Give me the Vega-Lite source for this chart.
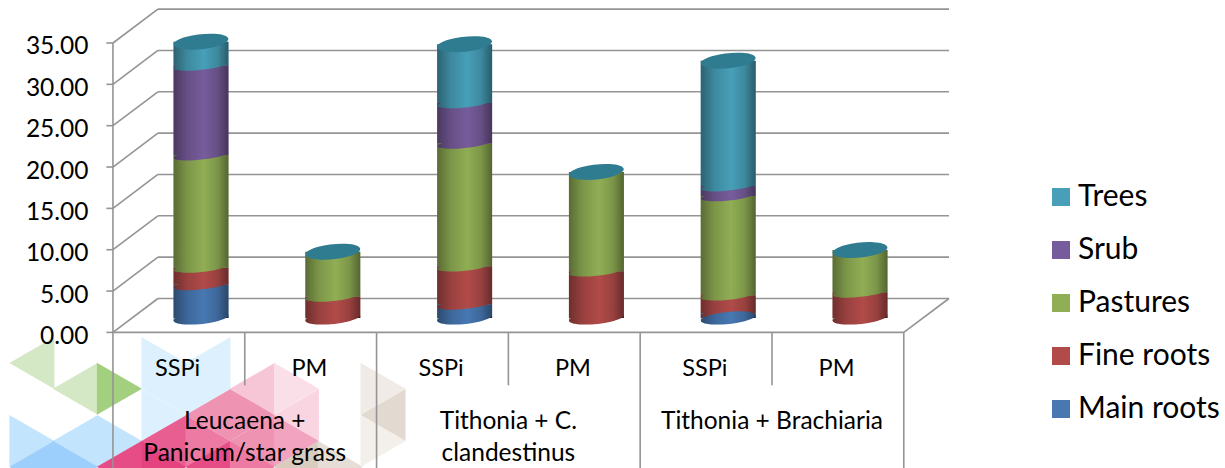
{
"$schema":"https://vega.github.io/schema/vega-lite/v6.json",
"width":1225,"height":468,"padding":0,"autosize":"none",
"background":"white",
"config":{"view":{"stroke":null},"font":"Lato"},
"datasets":{
"bars":[
{"pos":0.668,"series":"Main roots","order":1,"value":4.0},
{"pos":0.668,"series":"Fine roots","order":2,"value":2.1},
{"pos":0.668,"series":"Pastures","order":3,"value":13.6},
{"pos":0.668,"series":"Srub","order":4,"value":10.85},
{"pos":0.668,"series":"Trees","order":5,"value":2.85},
{"pos":1.668,"series":"Fine roots","order":2,"value":2.6},
{"pos":1.668,"series":"Pastures","order":3,"value":5.4},
{"pos":2.668,"series":"Main roots","order":1,"value":1.65},
{"pos":2.668,"series":"Fine roots","order":2,"value":4.6},
{"pos":2.668,"series":"Pastures","order":3,"value":14.85},
{"pos":2.668,"series":"Srub","order":4,"value":4.9},
{"pos":2.668,"series":"Trees","order":5,"value":7.1},
{"pos":3.668,"series":"Fine roots","order":2,"value":5.65},
{"pos":3.668,"series":"Pastures","order":3,"value":12.0},
{"pos":4.668,"series":"Main roots","order":1,"value":0.55},
{"pos":4.668,"series":"Fine roots","order":2,"value":2.2},
{"pos":4.668,"series":"Pastures","order":3,"value":12.0},
{"pos":4.668,"series":"Srub","order":4,"value":1.2},
{"pos":4.668,"series":"Trees","order":5,"value":15.15},
{"pos":5.668,"series":"Fine roots","order":2,"value":3.1},
{"pos":5.668,"series":"Pastures","order":3,"value":5.1}
],
"lines":[
{"a":0,"b":6,"c":0,"d":0},{"a":0,"b":0,"c":35,"d":-16.4},
{"a":1,"b":1,"c":0,"d":-6.4},{"a":2,"b":2,"c":0,"d":-16.4},{"a":3,"b":3,"c":0,"d":-6.4},{"a":4,"b":4,"c":0,"d":-16.4},{"a":5,"b":5,"c":0,"d":-6.4},{"a":6,"b":6,"c":0,"d":-16.4},
{"a":6,"b":6.343,"c":0,"d":4.1},
{"a":0,"b":0.341,"c":0,"d":4.1},{"a":0,"b":0.341,"c":5,"d":9.1},{"a":0,"b":0.341,"c":10,"d":14.1},{"a":0,"b":0.341,"c":15,"d":19.1},{"a":0,"b":0.341,"c":20,"d":24.1},{"a":0,"b":0.341,"c":25,"d":29.1},{"a":0,"b":0.341,"c":30,"d":34.1},{"a":0,"b":0.341,"c":35,"d":39.1},
{"a":0.341,"b":6.343,"c":4.1,"d":4.1},{"a":0.341,"b":6.343,"c":9.1,"d":9.1},{"a":0.341,"b":6.343,"c":14.1,"d":14.1},{"a":0.341,"b":6.343,"c":19.1,"d":19.1},{"a":0.341,"b":6.343,"c":24.1,"d":24.1},{"a":0.341,"b":6.343,"c":29.1,"d":29.1},{"a":0.341,"b":6.343,"c":34.1,"d":34.1},{"a":0.341,"b":6.343,"c":39.1,"d":39.1},
{"a":-0.05,"b":0,"c":0,"d":0},{"a":-0.05,"b":0,"c":5,"d":5},{"a":-0.05,"b":0,"c":10,"d":10},{"a":-0.05,"b":0,"c":15,"d":15},{"a":-0.05,"b":0,"c":20,"d":20},{"a":-0.05,"b":0,"c":25,"d":25},{"a":-0.05,"b":0,"c":30,"d":30},{"a":-0.05,"b":0,"c":35,"d":35}
],
"labels":[
{"tx":0.49,"ty":-4.4,"t":"SSPi","fs":23.5},{"tx":1.49,"ty":-4.4,"t":"PM","fs":23.5},{"tx":2.49,"ty":-4.4,"t":"SSPi","fs":23.5},{"tx":3.49,"ty":-4.4,"t":"PM","fs":23.5},{"tx":4.49,"ty":-4.4,"t":"SSPi","fs":23.5},{"tx":5.49,"ty":-4.4,"t":"PM","fs":23.5},
{"tx":1.0,"ty":-10.85,"t":"Leucaena +","fs":24.5},{"tx":1.0,"ty":-14.65,"t":"Panicum/star grass","fs":24.5},
{"tx":3.0,"ty":-10.85,"t":"Tithonia + C.","fs":24.5},{"tx":3.0,"ty":-14.65,"t":"clandestinus","fs":24.5},
{"tx":5.0,"ty":-10.85,"t":"Tithonia + Brachiaria","fs":24.5}
],
"tiles":[
{"cx":-0.615,"cy":-3.69,"dir":"L","col":"#D5E8C5"},
{"cx":-0.285,"cy":-6.83,"dir":"L","col":"#D5E8C5"},
{"cx":0.049,"cy":-6.83,"dir":"R","col":"#A3D07F"},
{"cx":0.387,"cy":-3.69,"dir":"R","col":"#DDF0FE"},
{"cx":0.721,"cy":-3.69,"dir":"L","col":"#DDF0FE"},
{"cx":0.721,"cy":-6.83,"dir":"R","col":"#DDF0FE"},
{"cx":0.387,"cy":-6.83,"dir":"L","col":"#DDF0FE"},
{"cx":0.387,"cy":-9.98,"dir":"R","col":"#DDF0FE"},
{"cx":-0.615,"cy":-13.12,"dir":"R","col":"#C2E4FD"},
{"cx":-0.285,"cy":-13.12,"dir":"L","col":"#C2E4FD"},
{"cx":0.049,"cy":-13.12,"dir":"R","col":"#C2E4FD"},
{"cx":-0.615,"cy":-16.26,"dir":"L","col":"#9CCFFB"},
{"cx":-0.285,"cy":-16.26,"dir":"R","col":"#9CCFFB"},
{"cx":0.049,"cy":-16.26,"dir":"L","col":"#E64D86"},
{"cx":0.387,"cy":-13.12,"dir":"L","col":"#E85E90"},
{"cx":0.387,"cy":-16.26,"dir":"R","col":"#E4437F"},
{"cx":0.721,"cy":-9.98,"dir":"L","col":"#EE93B2"},
{"cx":0.721,"cy":-13.12,"dir":"R","col":"#EC7AA3"},
{"cx":0.721,"cy":-16.26,"dir":"L","col":"#E64D86"},
{"cx":1.058,"cy":-6.83,"dir":"L","col":"#F6C5D6"},
{"cx":1.058,"cy":-9.98,"dir":"R","col":"#EE93B2"},
{"cx":1.058,"cy":-13.12,"dir":"L","col":"#EE93B2"},
{"cx":1.058,"cy":-16.26,"dir":"R","col":"#EC7AA3"},
{"cx":1.392,"cy":-6.83,"dir":"R","col":"#FADFE9"},
{"cx":1.392,"cy":-9.98,"dir":"L","col":"#F9D5E2"},
{"cx":1.392,"cy":-13.12,"dir":"R","col":"#F1A3BF"},
{"cx":1.392,"cy":-16.26,"dir":"L","col":"#D8CCBF"},
{"cx":1.725,"cy":-16.26,"dir":"R","col":"#E6DED6"},
{"cx":2.049,"cy":-6.83,"dir":"R","col":"#F0EBE6"},
{"cx":2.049,"cy":-9.98,"dir":"L","col":"#E2D9D0"},
{"cx":2.049,"cy":-13.12,"dir":"R","col":"#F3EFEB"}
]
},
"layer":[
{"data":{"name":"tiles"},
 "mark":{"type":"point","filled":true,"opacity":1,"size":2704,"strokeWidth":0},
 "encoding":{
  "x":{"field":"cx","type":"quantitative","scale":{"domain":[-0.857,8.437],"nice":false,"zero":false,"padding":0},"axis":null},
  "y":{"field":"cy","type":"quantitative","scale":{"domain":[-16.4,40.2],"nice":false,"zero":false,"padding":0},"axis":{"title":null,"values":[0,5,10,15,20,25,30,35],"format":".2f","offset":-113,"labelPadding":25,"labelOffset":4,"domain":false,"ticks":false,"grid":false,"labelFontSize":24.5,"labelColor":"#000000","labelFont":"Lato","zindex":1}},
  "fill":{"field":"col","type":"nominal","scale":null,"legend":null},
  "shape":{"field":"dir","type":"nominal","legend":null,"scale":{"domain":["L","R"],"range":["M-0.866,0 L0.866,-1 L0.866,1 Z","M-0.866,-1 L0.866,0 L-0.866,1 Z"]}}
 }},
{"data":{"name":"lines"},
 "mark":{"type":"rule","color":"#949494","strokeWidth":1.6},
 "encoding":{
  "x":{"field":"a","type":"quantitative","scale":{"domain":[-0.857,8.437],"nice":false,"zero":false,"padding":0},"axis":null},
  "x2":{"field":"b"},
  "y":{"field":"c","type":"quantitative","scale":{"domain":[-16.4,40.2],"nice":false,"zero":false,"padding":0}},
  "y2":{"field":"d"}
 }},
{"data":{"name":"labels"},
 "mark":{"type":"text","font":"Lato","color":"#000000","align":"center","baseline":"middle"},
 "encoding":{
  "x":{"field":"tx","type":"quantitative","scale":{"domain":[-0.857,8.437],"nice":false,"zero":false,"padding":0},"axis":null},
  "y":{"field":"ty","type":"quantitative","scale":{"domain":[-16.4,40.2],"nice":false,"zero":false,"padding":0}},
  "text":{"field":"t","type":"nominal"},
  "size":{"field":"fs","type":"quantitative","scale":null,"legend":null}
 }},
{"data":{"name":"bars"},
 "transform":[{"stack":"value","groupby":["pos"],"sort":[{"field":"order","order":"ascending"}],"as":["v0","v1"]}],
 "mark":{"type":"bar","size":55,"yOffset":-14.5,"y2Offset":-14.5,"orient":"vertical"},
 "encoding":{
  "x":{"field":"pos","type":"quantitative","scale":{"domain":[-0.857,8.437],"nice":false,"zero":false,"padding":0},"axis":null},
  "y":{"field":"v0","type":"quantitative","scale":{"domain":[-16.4,40.2],"nice":false,"zero":false,"padding":0}},
  "y2":{"field":"v1"},
  "color":{"field":"series","type":"nominal","scale":{"domain":["Trees","Srub","Pastures","Fine roots","Main roots"],"range":["#479FB8","#775C9B","#90AE54","#B14B49","#4778B2"]},
   "legend":{"title":null,"orient":"none","legendX":1046,"legendY":182,"symbolType":"square","symbolSize":324,"symbolStrokeWidth":0,"labelFontSize":30,"labelFont":"Lato","labelColor":"#000000","labelOffset":2,"rowPadding":23,"labelLimit":200}}
 }},
{"data":{"name":"bars"},
 "transform":[{"stack":"value","groupby":["pos"],"sort":[{"field":"order","order":"ascending"}],"as":["v0","v1"]}],
 "mark":{"type":"point","filled":true,"opacity":1,"size":3025,"strokeWidth":0,"yOffset":-14.5,"shape":"M-0.9945,0.1045 A1,0.165 -6 1,1 0.9945,-0.1045 A1,0.165 -6 1,1 -0.9945,0.1045 Z"},
 "encoding":{
  "x":{"field":"pos","type":"quantitative","scale":{"domain":[-0.857,8.437],"nice":false,"zero":false,"padding":0},"axis":null},
  "y":{"field":"v0","type":"quantitative","scale":{"domain":[-16.4,40.2],"nice":false,"zero":false,"padding":0}},
  "color":{"field":"series","type":"nominal","legend":null,"scale":{"domain":["Trees","Srub","Pastures","Fine roots","Main roots"],"range":["#479FB8","#775C9B","#90AE54","#B14B49","#4778B2"]}}
 }},
{"data":{"name":"bars"},
 "transform":[{"stack":"value","groupby":["pos"],"sort":[{"field":"order","order":"ascending"}],"as":["v0","v1"]},{"filter":"datum.v0 === 0"}],
 "mark":{"type":"point","filled":true,"opacity":1,"size":3025,"strokeWidth":0,"yOffset":-14.5,"shape":"M-0.9945,0.1045 A1,0.22 -6 1,1 0.9945,-0.1045 A1,0.22 -6 1,1 -0.9945,0.1045 Z"},
 "encoding":{
  "x":{"field":"pos","type":"quantitative","scale":{"domain":[-0.857,8.437],"nice":false,"zero":false,"padding":0},"axis":null},
  "y":{"field":"v0","type":"quantitative","scale":{"domain":[-16.4,40.2],"nice":false,"zero":false,"padding":0}},
  "color":{"field":"series","type":"nominal","legend":null,"scale":{"domain":["Trees","Srub","Pastures","Fine roots","Main roots"],"range":["#479FB8","#775C9B","#90AE54","#B14B49","#4778B2"]}}
 }},
{"data":{"name":"bars"},
 "transform":[{"aggregate":[{"op":"sum","field":"value","as":"total"}],"groupby":["pos"]}],
 "mark":{"type":"bar","size":55,"yOffset":-14.5,"y2Offset":-14.5,"orient":"vertical","color":{"gradient":"linear","x1":0,"x2":1,"y1":0,"y2":0,"stops":[{"offset":0,"color":"rgba(0,0,0,0.38)"},{"offset":0.25,"color":"rgba(0,0,0,0.14)"},{"offset":0.55,"color":"rgba(0,0,0,0)"},{"offset":0.8,"color":"rgba(0,0,0,0.14)"},{"offset":1,"color":"rgba(0,0,0,0.42)"}]}},
 "encoding":{
  "x":{"field":"pos","type":"quantitative","scale":{"domain":[-0.857,8.437],"nice":false,"zero":false,"padding":0},"axis":null},
  "y":{"field":"total","type":"quantitative","scale":{"domain":[-16.4,40.2],"nice":false,"zero":false,"padding":0}},
  "y2":{"datum":0}
 }},
{"data":{"name":"bars"},
 "transform":[{"aggregate":[{"op":"sum","field":"value","as":"total"}],"groupby":["pos"]}],
 "mark":{"type":"point","filled":true,"opacity":1,"size":3025,"strokeWidth":0,"yOffset":-14.5,"shape":"M-0.9945,0.1045 A1,0.22 -6 0,0 0.9945,-0.1045 L1,0 L-1,0 Z","color":{"gradient":"linear","x1":0,"x2":1,"y1":0,"y2":0,"stops":[{"offset":0,"color":"rgba(0,0,0,0.38)"},{"offset":0.25,"color":"rgba(0,0,0,0.14)"},{"offset":0.55,"color":"rgba(0,0,0,0)"},{"offset":0.8,"color":"rgba(0,0,0,0.14)"},{"offset":1,"color":"rgba(0,0,0,0.42)"}]}},
 "encoding":{
  "x":{"field":"pos","type":"quantitative","scale":{"domain":[-0.857,8.437],"nice":false,"zero":false,"padding":0},"axis":null},
  "y":{"datum":0,"type":"quantitative","scale":{"domain":[-16.4,40.2],"nice":false,"zero":false,"padding":0}}
 }},
{"data":{"name":"bars"},
 "transform":[{"aggregate":[{"op":"sum","field":"value","as":"total"}],"groupby":["pos"]}],
 "mark":{"type":"point","filled":true,"opacity":1,"size":3025,"strokeWidth":0,"yOffset":-14.5,"color":"#2F7B90","shape":"M-0.9945,0.1045 A1,0.27 -6 1,1 0.9945,-0.1045 A1,0.27 -6 1,1 -0.9945,0.1045 Z"},
 "encoding":{
  "x":{"field":"pos","type":"quantitative","scale":{"domain":[-0.857,8.437],"nice":false,"zero":false,"padding":0},"axis":null},
  "y":{"field":"total","type":"quantitative","scale":{"domain":[-16.4,40.2],"nice":false,"zero":false,"padding":0}}
 }}
]
}
